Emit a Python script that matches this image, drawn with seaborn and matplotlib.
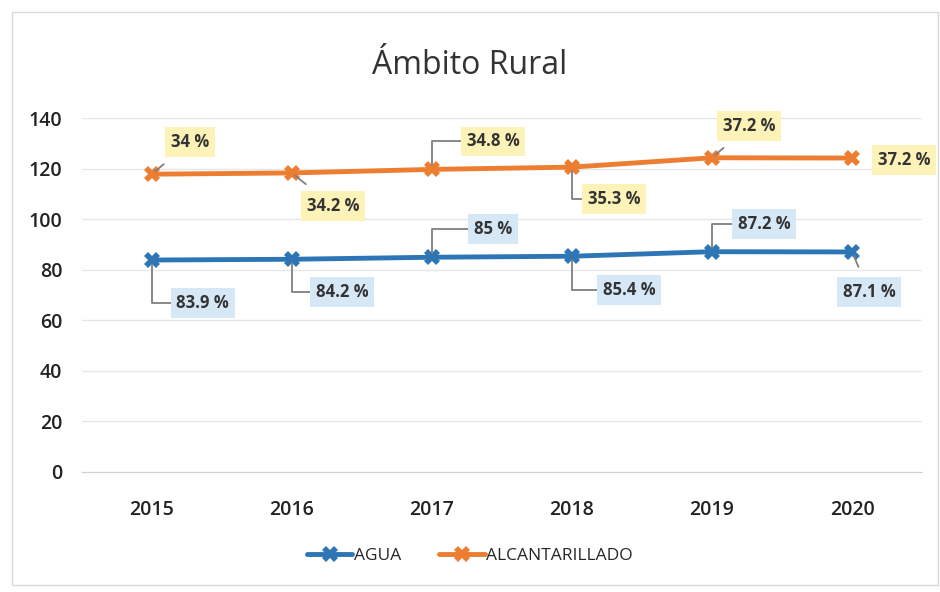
import numpy as np
import pandas as pd
import matplotlib.pyplot as plt
import seaborn as sns

# Data
years = ["2015", "2016", "2017", "2018", "2019", "2020"]
agua = [83.9, 84.2, 85.0, 85.4, 87.2, 87.1]
alcantarillado = [34.0, 34.2, 34.8, 35.3, 37.2, 37.2]
yticks = [0, 20, 40, 60, 80, 100, 120, 140]

# stacked line chart: second series sits on top of the first
alc_stacked = list(np.array(agua) + np.array(alcantarillado))

df = pd.DataFrame({
    "year": years * 2,
    "valor": agua + alc_stacked,
    "serie": ["AGUA"] * len(years) + ["ALCANTARILLADO"] * len(years),
})

sns.set_style("white")
plt.rcParams["font.family"] = ["Open Sans", "DejaVu Sans"]

blue = "#2e75b6"
orange = "#ed7d31"

fig = plt.figure(figsize=(9.4, 5.92), dpi=100)
ax = fig.add_axes([0.087, 0.203, 0.894, 0.597])

sns.lineplot(data=df, x="year", y="valor", hue="serie", palette=[blue, orange],
             marker="X", markersize=11, markeredgewidth=0, linewidth=3.5,
             sort=False, ax=ax, legend=True)

ax.set_xlim(-0.5, len(years) - 0.5)
ax.set_ylim(0, 140)
ax.set_yticks(yticks)
ax.grid(axis="y", color="#e6e6e6", linewidth=1)
ax.set_xlabel("")
ax.set_ylabel("")
for s in ["top", "right", "left"]:
    ax.spines[s].set_visible(False)
ax.spines["bottom"].set_color("#d0d0d0")
ax.tick_params(axis="both", length=0, labelsize=14, colors="#222222")
ax.tick_params(axis="x", pad=20)
ax.tick_params(axis="y", pad=14)
for t in ax.get_xticklabels() + ax.get_yticklabels():
    t.set_fontweight("semibold")

# data labels (pixel offsets from each point); "d" = diagonal leader, "e" = elbow
alc_off = [(38, 32, "d"), (41, -33, "d"), (61, 28, "e"), (42, -32, "e"), (37, 32, "d"), (52, -2, "n")]
agua_off = [(51, -43, "e"), (50, -33, "e"), (61, 28, "e"), (57, -34, "e"), (52, 28, "e"), (17, -40, "d")]

def label(i, yv, txt, off, face):
    dx, dy, kind = off
    if kind == "n":
        ap = None
    elif kind == "d":
        ap = dict(arrowstyle="-", color="#7f7f7f", lw=1.3, shrinkA=8, shrinkB=3)
    else:
        ap = dict(arrowstyle="-", color="#7f7f7f", lw=1.3, shrinkA=0, shrinkB=3,
                  connectionstyle="angle,angleA=0,angleB=90,rad=0")
    ax.annotate(txt, xy=(i, yv), xytext=(dx, dy), textcoords="offset pixels",
                ha="center", va="center", fontsize=12, fontweight="bold",
                color="#333333",
                bbox=dict(boxstyle="square,pad=0.35", fc=face, ec="none"),
                arrowprops=ap, zorder=5)

for i in range(len(years)):
    label(i, alc_stacked[i], f"{alcantarillado[i]:g} %", alc_off[i], "#fdf3b8")
    label(i, agua[i], f"{agua[i]:g} %", agua_off[i], "#d6e7f6")

# legend at bottom
handles, labels = ax.get_legend_handles_labels()
ax.get_legend().remove()
fig.legend(handles, labels, loc="center", bbox_to_anchor=(0.5, 0.061), ncol=2,
           frameon=False, fontsize=12.5, handlelength=2.6, columnspacing=2.2,
           handletextpad=0.1)

fig.text(0.5, 0.89, "Ámbito Rural", ha="center", va="center", fontsize=23,
         color="#333333")

# light outer frame
fig.patches.append(plt.Rectangle((0.013, 0.012), 0.985, 0.968, transform=fig.transFigure,
                                 fill=False, ec="#d9d9d9", lw=1))

fig.savefig("out.png", dpi=100)
